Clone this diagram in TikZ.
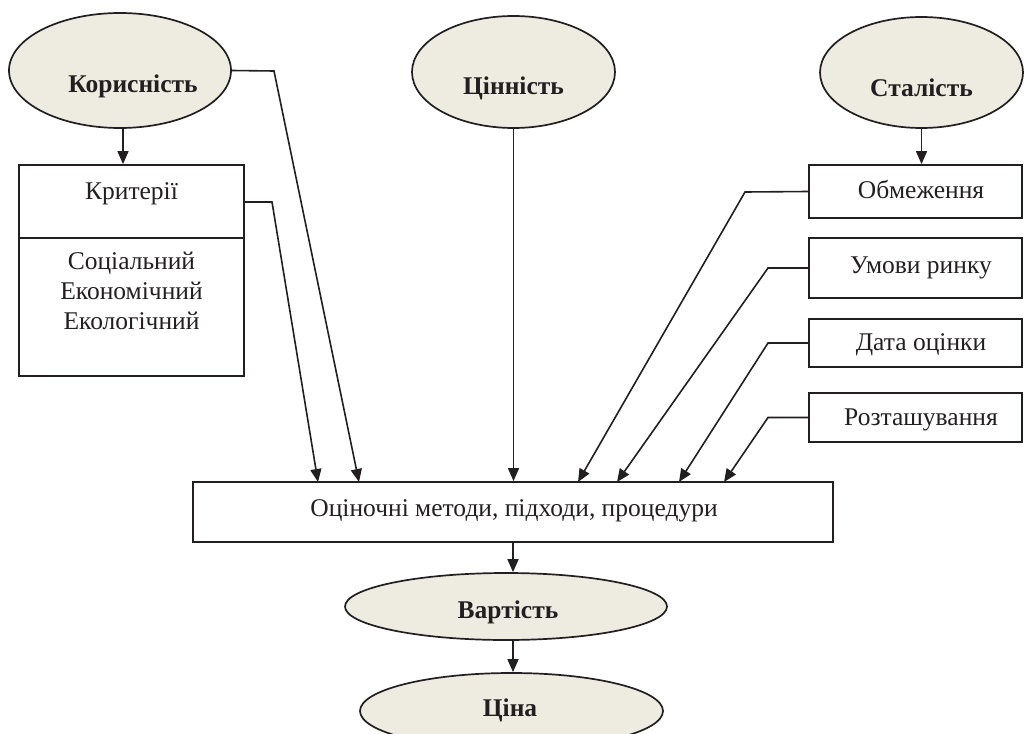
\documentclass[tikz,border=0pt]{standalone}
\usepackage{fontspec}
\setmainfont{Liberation Serif}
\usetikzlibrary{shapes.geometric,arrows.meta}
\definecolor{ellfill}{HTML}{EEECE1}
\definecolor{ink}{HTML}{231F20}
\begin{document}
\begin{tikzpicture}[x=1pt,y=-1pt,
  oval/.style={ellipse,draw=ink,fill=ellfill,line width=1.7pt,inner sep=0pt},
  boxnode/.style={rectangle,draw=ink,line width=1.8pt,inner sep=0pt},
  lbl/.style={anchor=base,inner sep=0pt,text=ink,font=\fontsize{25.5}{30}\selectfont},
  blbl/.style={lbl,font=\fontsize{25.5}{30}\selectfont\bfseries},
  conn/.style={draw=ink,line width=1.6pt},
  arr/.style={conn,-{Triangle[length=13pt,width=11pt]}}]
\useasboundingbox (0,0) rectangle (1024,733);
\clip (0,0) rectangle (1024,733);
% ellipses
\node[oval,minimum width=222pt,minimum height=115pt] (kor) at (120,70.5) {};
\node[blbl] (korT) at (133,93) {Корисність};
\node[oval,minimum width=203pt,minimum height=112pt] (cin) at (513.5,72) {};
\node[blbl] (cinT) at (513.5,95) {Цінність};
\node[oval,minimum width=203pt,minimum height=111pt] (stal) at (921.5,72.5) {};
\node[blbl] (stalT) at (921.5,96) {Сталість};
\node[oval,minimum width=322pt,minimum height=67pt] (var) at (506,606.5) {};
\node[blbl] (varT) at (508,618) {Вартість};
\node[oval,minimum width=303pt,minimum height=76pt] (cina) at (511.5,711) {};
\node[blbl] (cinaT) at (510,716) {Ціна};
% left box
\node[boxnode,minimum width=225pt,minimum height=211pt] (krit) at (131.5,270.5) {};
\coordinate (div) at (0,238);
\draw[conn,line width=1.8pt] (krit.west |- div) -- (krit.east |- div);
\node[lbl] (kritT) at (131.5,199) {Критерії};
\node[lbl] (k1) at (131.5,269) {Соціальний};
\node[lbl] (k2) at (131.5,299) {Економічний};
\node[lbl] (k3) at (131.5,329) {Екологічний};
% right boxes
\node[boxnode,minimum width=213pt,minimum height=53pt] (obm) at (915.5,191.5) {};
\node[lbl] (obmT) at (921,198) {Обмеження};
\node[boxnode,minimum width=213pt,minimum height=60pt] (umo) at (915.5,268) {};
\node[lbl] (umoT) at (921,273) {Умови ринку};
\node[boxnode,minimum width=213pt,minimum height=48pt] (dat) at (915.5,343) {};
\node[lbl] (datT) at (921,350) {Дата оцінки};
\node[boxnode,minimum width=213pt,minimum height=49pt] (roz) at (915.5,417.5) {};
\node[lbl] (rozT) at (921,425) {Розташування};
% central box
\node[boxnode,minimum width=640pt,minimum height=60pt] (ocin) at (513,512) {};
\node[lbl] (ocinT) at (514,516) {Оціночні методи, підходи, процедури};
% coordinates
\coordinate (kx) at (123,0);
\coordinate (b1) at (274,71);
\coordinate (b2) at (272,202);
\coordinate (e1) at (359,482);
\coordinate (e2) at (318,482);
\coordinate (b3) at (745,192);
\coordinate (b4) at (768,268);
\coordinate (b5) at (768,343);
\coordinate (b6) at (768,417.5);
\coordinate (e3) at (578,482);
\coordinate (e4) at (617,482);
\coordinate (e5) at (679,482);
\coordinate (e6) at (724,482);
% connectors
\draw[arr] (kx |- kor.south) -- (kx |- krit.north);
\draw[arr] (kor.east) -- (b1) -- (e1);
\draw[arr] (b2 -| krit.east) -- (b2) -- (e2);
\draw[arr] (cin.south) -- (cin.south |- ocin.north);
\draw[arr] (stal.south) -- (stal.south |- obm.north);
\draw[arr] (obm.west) -- (b3) -- (e3);
\draw[arr] (umo.west) -- (b4) -- (e4);
\draw[arr] (dat.west) -- (b5) -- (e5);
\draw[arr] (roz.west) -- (b6) -- (e6);
\draw[arr] (ocin.south) -- (ocin.south |- var.north);
\draw[arr] (ocin.south |- var.south) -- (ocin.south |- cina.north);
\end{tikzpicture}
\end{document}
